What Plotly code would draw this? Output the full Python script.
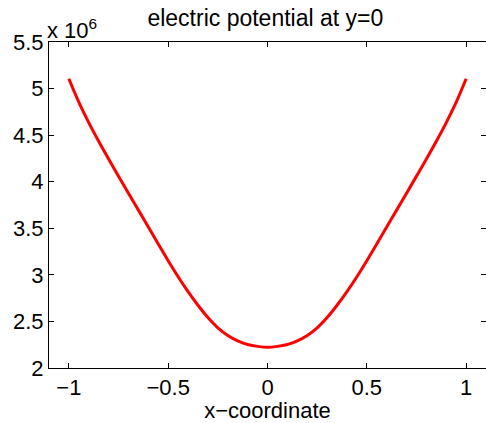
import plotly.graph_objects as go

x_vals = [-1.0, -0.95, -0.9, -0.85, -0.8, -0.75, -0.7, -0.65, -0.6, -0.55, -0.5, -0.45, -0.4, -0.35,
          -0.3, -0.25, -0.2, -0.15, -0.1, -0.05, 0.0,
          0.05, 0.1, 0.15, 0.2, 0.25, 0.3, 0.35, 0.4, 0.45, 0.5, 0.55, 0.6, 0.65, 0.7, 0.75,
          0.8, 0.85, 0.9, 0.95, 1.0]
potential = [5.106e6, 4.855e6, 4.635e6, 4.435e6, 4.245e6, 4.060e6, 3.877e6, 3.695e6, 3.513e6, 3.331e6,
             3.152e6, 2.980e6, 2.820e6, 2.674e6, 2.541e6, 2.431e6, 2.349e6, 2.291e6, 2.253e6, 2.232e6,
             2.222e6,
             2.232e6, 2.253e6, 2.291e6, 2.349e6, 2.431e6, 2.541e6, 2.674e6, 2.820e6, 2.980e6, 3.152e6,
             3.331e6, 3.513e6, 3.695e6, 3.877e6, 4.060e6, 4.245e6, 4.435e6, 4.635e6, 4.855e6, 5.106e6]

x_ticks = [-1, -0.5, 0, 0.5, 1]
x_ticktext = ["\u22121", "\u22120.5", "0", "0.5", "1"]
y_ticks = [2, 2.5, 3, 3.5, 4, 4.5, 5, 5.5]
y_ticktext = ["2", "2.5", "3", "3.5", "4", "4.5", "5", "5.5"]

FONT = "Liberation Sans, Arial, sans-serif"

fig = go.Figure()
fig.add_trace(go.Scatter(
    x=x_vals, y=[v / 1e6 for v in potential], mode="lines",
    line=dict(color="#ff0000", width=3, shape="spline", smoothing=1.0),
    showlegend=False, hoverinfo="skip"))
# invisible helper trace for the right-side tick marks
fig.add_trace(go.Scatter(x=[None], y=[None], yaxis="y2", showlegend=False, hoverinfo="skip"))

fig.update_layout(
    width=486, height=423,
    margin=dict(l=49, r=0, t=42, b=55),
    paper_bgcolor="white", plot_bgcolor="white",
    font=dict(family=FONT, size=22, color="black"),
    title=dict(text="electric potential at y=0", x=0.546, xanchor="center",
               y=1, yref="paper", yanchor="bottom", pad=dict(b=16),
               font=dict(family=FONT, size=23, color="black")),
    xaxis=dict(range=[-1.1, 1.1], tickvals=x_ticks, ticktext=x_ticktext,
               ticks="inside", ticklen=5, tickcolor="black", showline=True, linecolor="black",
               linewidth=1, mirror="ticks", showgrid=False, zeroline=False,
               ticklabelstandoff=0,
               title=dict(text="x\u2212coordinate", standoff=6, font=dict(size=22))),
    yaxis=dict(range=[2, 5.5], tickvals=y_ticks, ticktext=y_ticktext,
               ticks="inside", ticklen=5, tickcolor="black", showline=True, linecolor="black",
               linewidth=1, mirror=False, showgrid=False, zeroline=False),
    yaxis2=dict(range=[2, 5.5], tickvals=y_ticks, overlaying="y", side="right",
                ticks="inside", ticklen=5, tickcolor="black", showline=False,
                showticklabels=False, showgrid=False, zeroline=False),
)
fig.add_annotation(text="x 10<sup>6</sup>", xref="paper", yref="paper", x=0, y=1,
                   xanchor="left", yanchor="bottom", showarrow=False, xshift=-4, yshift=-3,
                   font=dict(family=FONT, size=22, color="black"))

fig.write_html("out.html")
